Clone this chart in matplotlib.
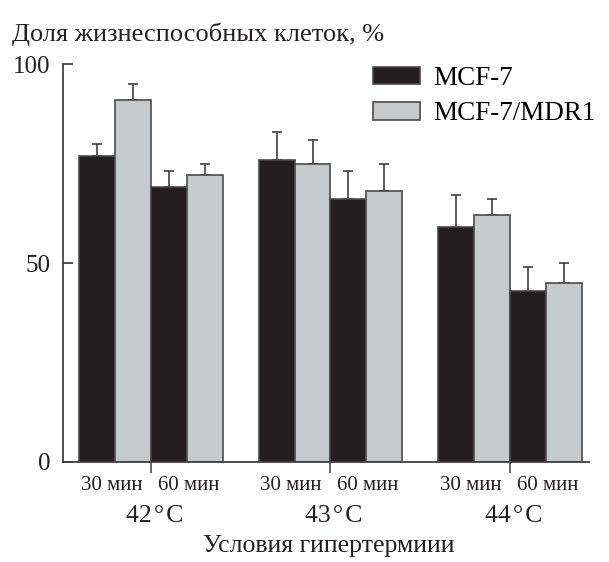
import numpy as np
import matplotlib
matplotlib.use('Agg')
import matplotlib.pyplot as plt

plt.rcParams['font.family'] = ['Liberation Serif', 'DejaVu Serif']

# data
groups = ['42\u200a°\u200aC', '43\u200a°\u200aC', '44\u200a°\u200aC']
times = ['30 мин', '60 мин']
series = ['MCF-7', 'MCF-7/MDR1']

# order in each group: 30 min, 60 min
MCF7 = [[77, 69], [76, 66], [59, 43]]
MCF7_err = [[3, 4], [7, 7], [8, 6]]
MDR1 = [[91, 72], [75, 68], [62, 45]]
MDR1_err = [[4, 3], [6, 7], [4, 5]]

co_map = {'MCF-7': '#231f20', 'MCF-7/MDR1': '#c8c9cb'}


def draw():
    fig = plt.figure(figsize=(6.09, 5.62), dpi=100)
    ax = fig.add_axes([0.1034, 0.178, 0.8637, 0.708])

    w = 1.0
    centers = np.arange(len(groups)) * 5.0
    for gi, c in enumerate(centers):
        for ti in range(len(times)):
            base = c - 1.5 + 2 * ti
            ax.bar(base, MCF7[gi][ti], width=w, color=co_map['MCF-7'],
                   edgecolor='#4a4a4a', lw=1.2,
                   label='MCF-7' if gi == 0 and ti == 0 else None, zorder=2)
            ax.bar(base + 1, MDR1[gi][ti], width=w, color=co_map['MCF-7/MDR1'],
                   edgecolor='#4a4a4a', lw=1.2,
                   label='MCF-7/MDR1' if gi == 0 and ti == 0 else None, zorder=2)
            ax.errorbar(base, MCF7[gi][ti], yerr=[[0], [MCF7_err[gi][ti]]],
                        fmt='none', ecolor='#404040', elinewidth=1.2,
                        capsize=3.4, capthick=1.2, zorder=1)
            ax.errorbar(base + 1, MDR1[gi][ti], yerr=[[0], [MDR1_err[gi][ti]]],
                        fmt='none', ecolor='#404040', elinewidth=1.2,
                        capsize=3.4, capthick=1.2, zorder=1)
            # sub label under pair
            ax.text(c + (-1.1 if ti == 0 else 1.05), -0.058, times[ti],
                    transform=ax.get_xaxis_transform(),
                    ha='center', va='center', fontsize=15, color='#231f20')
        ax.text(c + 0.1, -0.137, groups[gi], transform=ax.get_xaxis_transform(),
                ha='center', va='center', fontsize=18.5, color='#231f20')

    ax.set_xlim(-2.45, 12.2)
    ax.set_ylim(0, 100)
    ax.set_yticks([0, 50, 100])
    ax.tick_params(axis='y', direction='in', length=7, width=1.1, labelsize=18,
                   colors='#231f20', pad=9)
    ax.set_xticks(centers)
    ax.set_xticklabels([])
    ax.tick_params(axis='x', direction='out', length=8, width=1.1, colors='#404040')
    for s in ['top', 'right']:
        ax.spines[s].set_visible(False)
    for s in ['left', 'bottom']:
        ax.spines[s].set_linewidth(1.3)
        ax.spines[s].set_color('#404040')

    ax.text(-0.097, 1.058, 'Доля жизнеспособных клеток, %', transform=ax.transAxes,
            ha='left', va='baseline', fontsize=19, color='#231f20')
    ax.text(0.505, -0.212, 'Условия гипертермиии', transform=ax.transAxes,
            ha='center', va='center', fontsize=18.5, color='#231f20')

    ax.legend(loc='upper left', bbox_to_anchor=(0.589, 0.995), frameon=False,
              fontsize=19.5, handlelength=1.74, handleheight=0.63,
              handletextpad=0.5, labelspacing=0.38, borderpad=0, borderaxespad=0)

    plt.savefig('out.png', dpi=100)


def main():
    draw()


if __name__ == '__main__':
    main()
